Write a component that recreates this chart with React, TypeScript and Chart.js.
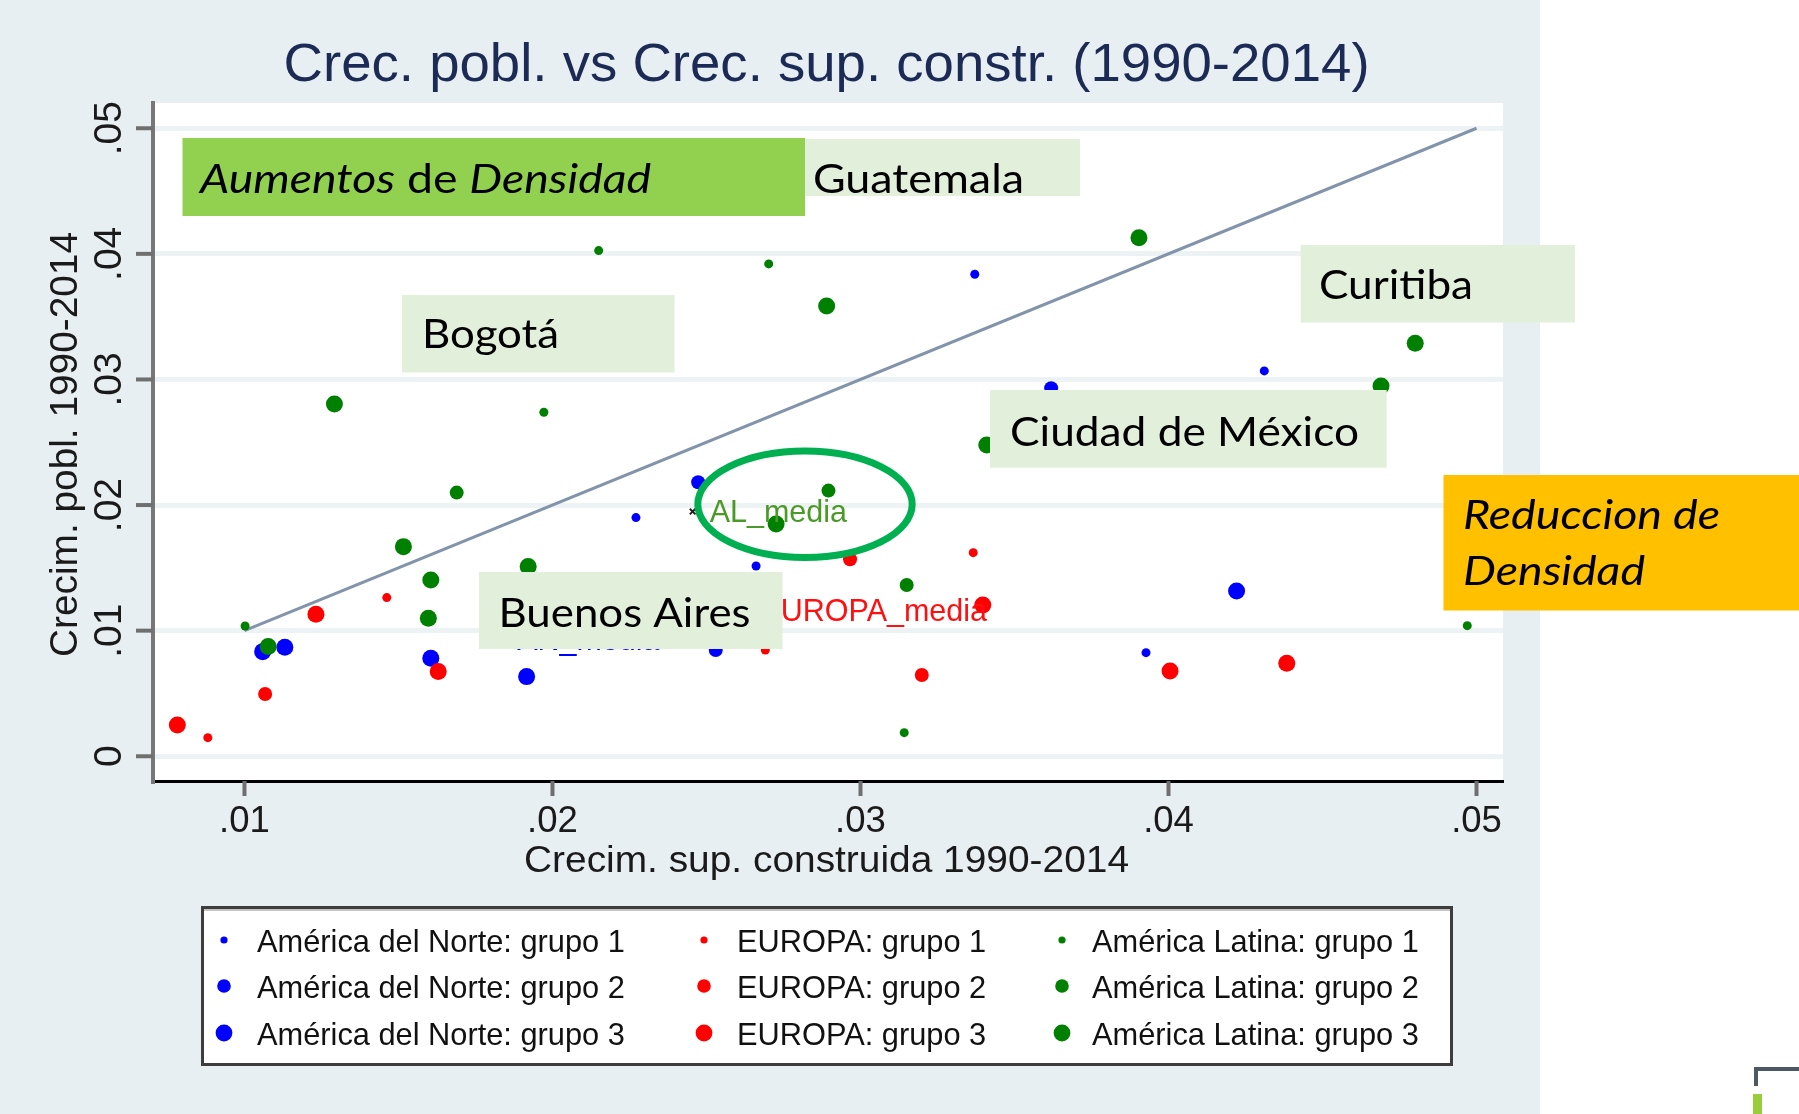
import React, { useEffect, useRef } from 'react';
import { Chart, registerables } from 'chart.js';

Chart.register(...registerables);

const W = 1799;
const H = 1114;

// ---------------- data ----------------
// América del Norte
const anG1X = [0.02271, 0.03371, 0.02661, 0.04311, 0.03927];
const anG1Y = [0.01900, 0.03838, 0.01515, 0.03068, 0.00825];
const anG2X = [0.02473, 0.03619, 0.02530];
const anG2Y = [0.02182, 0.02930, 0.00846];
const anG3X = [0.01059, 0.01131, 0.01605, 0.01916, 0.04221];
const anG3Y = [0.00833, 0.00868, 0.00780, 0.00634, 0.01316];
// EUROPA
const euG1X = [0.00881, 0.01462, 0.03366, 0.02691];
const euG1Y = [0.00148, 0.01263, 0.01621, 0.00846];
const euG2X = [0.01067, 0.03199, 0.02966];
const euG2Y = [0.00496, 0.00647, 0.01568];
const euG3X = [0.00782, 0.01232, 0.01629, 0.03397, 0.04005, 0.04384];
const euG3Y = [0.00249, 0.01130, 0.00674, 0.01205, 0.00679, 0.00740];
// América Latina
const alG1X = [0.01002, 0.01972, 0.02150, 0.02702, 0.03142, 0.04970];
const alG1Y = [0.01037, 0.02739, 0.04026, 0.03920, 0.00188, 0.01040];
const alG2X = [0.01689, 0.02896, 0.03150];
const alG2Y = [0.02099, 0.02115, 0.01364];
const alG3X = [0.01292, 0.01516, 0.01921, 0.01605, 0.01597, 0.01077, 0.02890, 0.02726, 0.03904, 0.04801, 0.04690, 0.03410];
const alG3Y = [0.02805, 0.01669, 0.01510, 0.01404, 0.01099, 0.00873, 0.03585, 0.01850, 0.04129, 0.03288, 0.02948, 0.02479];

// group means
const mediaLabels = ['AN_media', 'EUROPA_media', 'AL_media'];
const mediaX = [0.01830, 0.02620, 0.02455];
const mediaY = [0.00922, 0.01153, 0.01948];

// 45° reference line
const refLineX = [0.01, 0.05];
const refLineY = [0.01, 0.05];

// axes
const xTicks = [0.01, 0.02, 0.03, 0.04, 0.05];
const xTickLabels = ['.01', '.02', '.03', '.04', '.05'];
const yTicks = [0, 0.01, 0.02, 0.03, 0.04, 0.05];
const yTickLabels = ['0', '.01', '.02', '.03', '.04', '.05'];

const titleText = 'Crec. pobl. vs Crec. sup. constr. (1990-2014)';
const xTitle = 'Crecim. sup. construida 1990-2014';
const yTitle = 'Crecim. pobl. 1990-2014';

const regions = ['América del Norte', 'EUROPA', 'América Latina'];
const groups = ['grupo 1', 'grupo 2', 'grupo 3'];

// highlight ellipse around AL_media (data units)
const ellipseCenter = [0.028198, 0.020064];
const ellipseRadii = [0.00348, 0.004236];

// ---------------- styles ----------------
const PANEL = '#e8eff2';
const regionColors = ['#0000ff', '#ff0000', '#008000'];
const mediaColors = ['#0000ff', '#ff1010', '#4a9a28'];
const pointRadius = [4.5, 7, 8.5];
const legendRadius = [3.6, 6.8, 8.4];
const STATA_FONT = '"Liberation Sans", Arial, sans-serif';
const BOX_FONT = 'Lato, "Open Sans", sans-serif';

type Run = { t: string; i?: boolean };

function drawRuns(
  ctx: CanvasRenderingContext2D,
  runs: Run[],
  x: number,
  y: number,
  size: number,
  family: string,
  color: string,
  target?: number,
  align: 'left' | 'center' = 'left',
  rot = 0
) {
  ctx.save();
  const fontOf = (r: Run) => `${r.i ? 'italic ' : ''}${size}px ${family}`;
  const widths = runs.map((r) => {
    ctx.font = fontOf(r);
    return ctx.measureText(r.t).width;
  });
  const total = widths.reduce((a, b) => a + b, 0);
  const sx = target ? target / total : 1;
  ctx.translate(x, y);
  if (rot) ctx.rotate(rot);
  ctx.scale(sx, 1);
  let cx = align === 'center' ? -total / 2 : 0;
  ctx.fillStyle = color;
  ctx.textAlign = 'left';
  ctx.textBaseline = 'alphabetic';
  runs.forEach((r, k) => {
    ctx.font = fontOf(r);
    ctx.fillText(r.t, cx, 0);
    cx += widths[k];
  });
  ctx.restore();
}

// callout boxes pasted over the chart (page layout, pixels)
type Callout = {
  box: [number, number, number, number];
  fill: string;
  lines: { runs: Run[]; x: number; y: number; w: number }[];
};
const callouts: Callout[] = [
  { box: [794, 139, 1080, 196], fill: '#e2efda', lines: [{ runs: [{ t: 'Guatemala' }], x: 813, y: 193, w: 211 }] },
  {
    box: [182.5, 138, 805, 216],
    fill: '#92d050',
    lines: [{ runs: [{ t: 'Aumentos', i: true }, { t: ' de ' }, { t: 'Densidad', i: true }], x: 200, y: 193, w: 451 }],
  },
  { box: [402, 295, 674.5, 372.5], fill: '#e2efda', lines: [{ runs: [{ t: 'Bogotá' }], x: 422, y: 348, w: 137 }] },
  { box: [1300.7, 245, 1575, 322.5], fill: '#e2efda', lines: [{ runs: [{ t: 'Curitiba' }], x: 1319, y: 298.5, w: 154 }] },
  { box: [990, 390, 1386.7, 467.7], fill: '#e2efda', lines: [{ runs: [{ t: 'Ciudad de México' }], x: 1010, y: 445.5, w: 349 }] },
  { box: [479, 572, 782.5, 649], fill: '#e2efda', lines: [{ runs: [{ t: 'Buenos Aires' }], x: 498.5, y: 627, w: 252 }] },
  {
    box: [1443.5, 475, 1799, 610.5],
    fill: '#ffc000',
    lines: [
      { runs: [{ t: 'Reduccion de', i: true }], x: 1463, y: 528.6, w: 257 },
      { runs: [{ t: 'Densidad', i: true }], x: 1463, y: 585, w: 182 },
    ],
  },
];

const mk = (xs: number[], ys: number[]) => xs.map((x, i) => ({ x, y: ys[i] }));

const series = [
  { r: 2, g: 0, xs: alG1X, ys: alG1Y },
  { r: 2, g: 1, xs: alG2X, ys: alG2Y },
  { r: 2, g: 2, xs: alG3X, ys: alG3Y },
  { r: 1, g: 0, xs: euG1X, ys: euG1Y },
  { r: 1, g: 1, xs: euG2X, ys: euG2Y },
  { r: 1, g: 2, xs: euG3X, ys: euG3Y },
  { r: 0, g: 0, xs: anG1X, ys: anG1Y },
  { r: 0, g: 1, xs: anG2X, ys: anG2Y },
  { r: 0, g: 2, xs: anG3X, ys: anG3Y },
];

const decorPlugin = {
  id: 'decor',
  beforeDraw(chart: any) {
    const { ctx, chartArea: a } = chart;
    ctx.save();
    ctx.fillStyle = '#ffffff';
    ctx.fillRect(0, 0, W, H);
    ctx.fillStyle = PANEL;
    ctx.fillRect(0, 0, 1540, H);
    ctx.fillStyle = '#ffffff';
    ctx.fillRect(a.left, a.top, a.right - a.left, a.bottom - a.top);
    ctx.restore();
  },
  afterDatasetsDraw(chart: any) {
    const { ctx } = chart;
    const xs = chart.scales.x;
    const ys = chart.scales.y;
    // mean labels
    mediaLabels.forEach((lab, i) => {
      const px = xs.getPixelForValue(mediaX[i]);
      const py = ys.getPixelForValue(mediaY[i]);
      drawRuns(ctx, [{ t: lab }], px + 17, py + 10, 30.5, STATA_FONT, mediaColors[i]);
    });
    // callout boxes
    callouts.forEach((c) => {
      ctx.save();
      ctx.fillStyle = c.fill;
      ctx.fillRect(c.box[0], c.box[1], c.box[2] - c.box[0], c.box[3] - c.box[1]);
      ctx.restore();
      c.lines.forEach((l) => drawRuns(ctx, l.runs, l.x, l.y, 41, BOX_FONT, '#000000', l.w));
    });
    // ellipse
    const cx = xs.getPixelForValue(ellipseCenter[0]);
    const cy = ys.getPixelForValue(ellipseCenter[1]);
    const rx = Math.abs(xs.getPixelForValue(ellipseCenter[0] + ellipseRadii[0]) - cx);
    const ry = Math.abs(ys.getPixelForValue(ellipseCenter[1] + ellipseRadii[1]) - cy);
    ctx.save();
    ctx.strokeStyle = '#00b050';
    ctx.lineWidth = 7;
    ctx.beginPath();
    ctx.ellipse(cx, cy, rx, ry, 0, 0, Math.PI * 2);
    ctx.stroke();
    ctx.restore();
  },
  afterDraw(chart: any) {
    const { ctx, chartArea: a } = chart;
    const xs = chart.scales.x;
    const ys = chart.scales.y;
    ctx.save();
    // tick marks
    ctx.strokeStyle = '#6f6f6f';
    ctx.lineWidth = 4;
    yTicks.forEach((v) => {
      const py = ys.getPixelForValue(v);
      ctx.beginPath();
      ctx.moveTo(a.left - 17, py);
      ctx.lineTo(a.left, py);
      ctx.stroke();
    });
    xTicks.forEach((v) => {
      const px = xs.getPixelForValue(v);
      ctx.beginPath();
      ctx.moveTo(px, a.bottom);
      ctx.lineTo(px, a.bottom + 15);
      ctx.stroke();
    });
    ctx.restore();
    // tick labels
    yTicks.forEach((v, i) => {
      const py = ys.getPixelForValue(v);
      const lab = yTickLabels[i];
      drawRuns(ctx, [{ t: lab }], a.left - 32, py, 39, STATA_FONT, '#1a1a1a', undefined, 'center', -Math.PI / 2);
    });
    xTicks.forEach((v, i) => {
      const px = xs.getPixelForValue(v);
      drawRuns(ctx, [{ t: xTickLabels[i] }], px, a.bottom + 50.5, 36.5, STATA_FONT, '#1a1a1a', undefined, 'center');
    });
    // axis titles
    drawRuns(ctx, [{ t: xTitle }], 826.5, 871.5, 36, STATA_FONT, '#1a1a1a', 605, 'center');
    drawRuns(ctx, [{ t: yTitle }], 76.5, 444.5, 39, STATA_FONT, '#1a1a1a', 425, 'center', -Math.PI / 2);
    // title
    drawRuns(ctx, [{ t: titleText }], 826.6, 81, 54, STATA_FONT, '#1c2a56', 1086, 'center');

    // legend
    ctx.save();
    ctx.fillStyle = '#ffffff';
    ctx.fillRect(201, 906, 1252, 160);
    ctx.strokeStyle = '#3d3d3d';
    ctx.lineWidth = 3;
    ctx.strokeRect(202.5, 907.5, 1249, 157);
    ctx.strokeStyle = '#c4c4c4';
    ctx.lineWidth = 2;
    ctx.beginPath();
    ctx.moveTo(204, 910);
    ctx.lineTo(1450, 910);
    ctx.stroke();
    ctx.restore();
    const colMarker = [224, 704, 1062];
    const colText = [257, 737, 1092];
    const rowBase = [952, 998, 1045];
    regions.forEach((reg, c) => {
      groups.forEach((grp, r) => {
        ctx.save();
        ctx.fillStyle = regionColors[c];
        ctx.beginPath();
        ctx.arc(colMarker[c], rowBase[r] - 12, legendRadius[r], 0, Math.PI * 2);
        ctx.fill();
        ctx.restore();
        const label = `${reg}: ${grp}`;
        ctx.save();
        ctx.font = `32px ${STATA_FONT}`;
        const w = ctx.measureText(label).width;
        ctx.restore();
        drawRuns(ctx, [{ t: label }], colText[c], rowBase[r], 32, STATA_FONT, '#111111', w * 0.962);
      });
    });

    // slide decoration bottom-right
    ctx.save();
    ctx.fillStyle = '#4d5862';
    ctx.fillRect(1754, 1067, 45, 4);
    ctx.fillRect(1754, 1067, 4, 19);
    ctx.fillStyle = '#9acd3c';
    ctx.fillRect(1753, 1094, 9, 20);
    ctx.restore();
  },
};

export default function App() {
  const ref = useRef<HTMLCanvasElement>(null);
  useEffect(() => {
    if (!ref.current) return;
    const datasets: any[] = [];
    datasets.push({
      label: 'media',
      data: mk(mediaX, mediaY),
      pointStyle: 'crossRot',
      pointRadius: 4,
      pointBorderWidth: 2,
      borderColor: '#222222',
      backgroundColor: '#222222',
      showLine: false,
    });
    series.forEach((s) => {
      datasets.push({
        label: `${regions[s.r]}: ${groups[s.g]}`,
        data: mk(s.xs, s.ys),
        pointRadius: pointRadius[s.g],
        pointBorderWidth: 0,
        backgroundColor: regionColors[s.r],
        borderColor: regionColors[s.r],
        showLine: false,
      });
    });
    datasets.push({
      label: 'ref',
      data: mk(refLineX, refLineY),
      showLine: true,
      borderColor: '#8294ab',
      borderWidth: 3,
      pointRadius: 0,
      fill: false,
    });

    const chart = new Chart(ref.current, {
      type: 'scatter',
      data: { datasets },
      options: {
        responsive: false,
        animation: false,
        devicePixelRatio: 1,
        layout: { padding: { left: 153, right: W - 1503, top: 103, bottom: H - 781 } },
        plugins: { legend: { display: false }, tooltip: { enabled: false }, title: { display: false } },
        scales: {
          x: {
            type: 'linear',
            min: 0.00703,
            max: 0.05086,
            grid: { display: false, drawTicks: false },
            border: { display: true, color: '#000000', width: 3 },
            ticks: { display: false },
            afterBuildTicks: (s: any) => {
              s.ticks = xTicks.map((v) => ({ value: v }));
            },
          },
          y: {
            type: 'linear',
            min: -0.00197,
            max: 0.05201,
            grid: { color: '#edf2f4', lineWidth: 5, drawTicks: false },
            border: { display: true, color: '#777777', width: 4 },
            ticks: { display: false },
            afterBuildTicks: (s: any) => {
              s.ticks = yTicks.map((v) => ({ value: v }));
            },
          },
        },
      } as any,
      plugins: [decorPlugin],
    });
    let alive = true;
    const fonts = [
      `41px Lato`,
      `italic 41px Lato`,
      `32px "Liberation Sans"`,
    ];
    Promise.all(fonts.map((f) => (document as any).fonts.load(f)))
      .then(() => {
        if (alive) chart.draw();
      })
      .catch(() => {});
    return () => {
      alive = false;
      chart.destroy();
    };
  }, []);
  return (
    <div style={{ position: 'fixed', left: 0, top: 0, width: W, height: H, background: '#ffffff' }}>
      <canvas ref={ref} width={W} height={H} style={{ display: 'block', width: W, height: H }} />
    </div>
  );
}
